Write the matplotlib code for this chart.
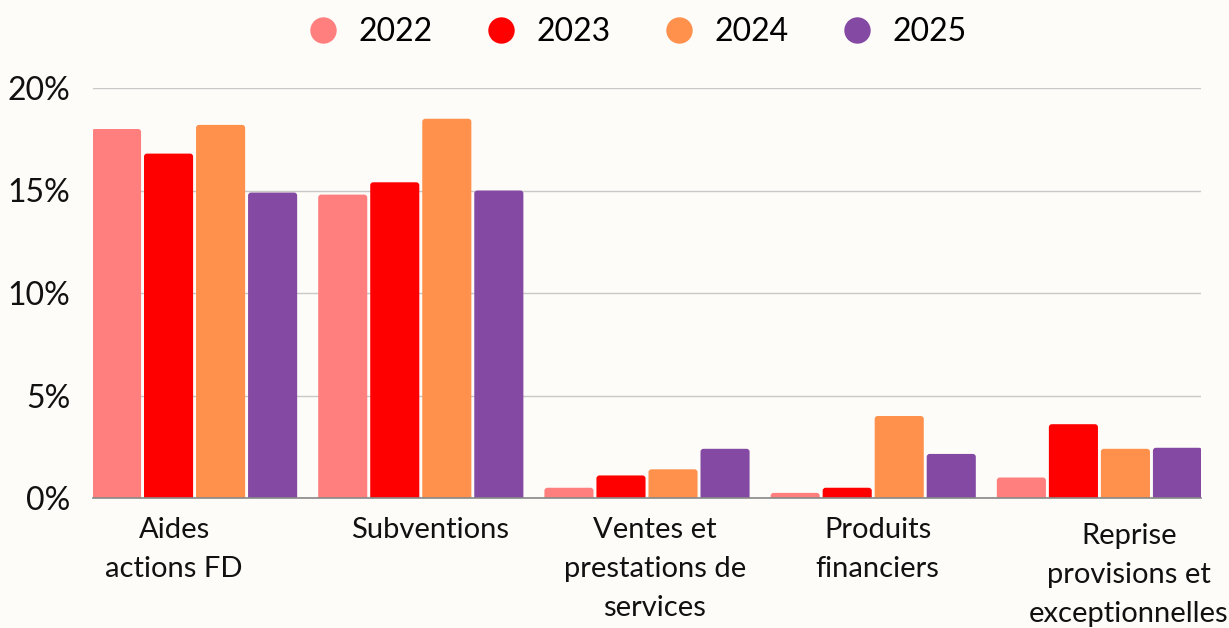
import numpy as np
import matplotlib.pyplot as plt
from matplotlib.lines import Line2D
from matplotlib.patches import FancyBboxPatch

plt.rcParams['font.family'] = ['Lato', 'DejaVu Sans']

categories = ["Aides\nactions FD", "Subventions", "Ventes et\nprestations de\nservices",
              "Produits\nfinanciers", "Reprise\nprovisions et\nexceptionnelles"]
years = ["2022", "2023", "2024", "2025"]
values_2022 = [18.0, 14.8, 0.5, 0.25, 1.0]
values_2023 = [16.8, 15.4, 1.1, 0.5, 3.6]
values_2024 = [18.2, 18.5, 1.4, 4.0, 2.4]
values_2025 = [14.9, 15.0, 2.4, 2.15, 2.45]
y_ticks = [0, 5, 10, 15, 20]

colors = ["#FF7F7F", "#FF0000", "#FF914D", "#8449A3"]
bg = "#FDFCF8"

fig = plt.figure(figsize=(12.29, 6.28), dpi=100, facecolor=bg)
ax = fig.add_axes([93 / 1229, 130 / 628, 1108 / 1229, 410 / 628])
ax.set_facecolor(bg)

x = np.arange(len(categories))
slot = 0.23
bar_w = 0.217
xmin, xmax = -0.449, len(categories) - 1 + 0.449
ax.set_xlim(xmin, xmax)
ax.set_ylim(0, 20)

# pixels per data unit, used to keep the corner rounding circular
px_x = 1108 / (xmax - xmin)
px_y = 410 / 20
r_px = 3
series = [values_2022, values_2023, values_2024, values_2025]
for i, vals in enumerate(series):
    bars = ax.bar(x + (i - 1.5) * slot, vals, width=bar_w, color=colors[i], zorder=3)
    for b in bars:
        b.set_visible(False)
        ext = r_px / px_y
        p = FancyBboxPatch((b.get_x(), -ext), b.get_width(), b.get_height() + ext,
                           boxstyle=f"round,pad=0,rounding_size={r_px / px_x}",
                           mutation_aspect=px_x / px_y,
                           facecolor=colors[i], edgecolor='none', zorder=3)
        ax.add_patch(p)

ax.set_yticks(y_ticks)
ax.set_yticklabels([f"{t}%" for t in y_ticks], fontsize=23, color="#111111")
ax.tick_params(axis='y', length=0, pad=16.5)
ax.set_xticks([])
ax.grid(axis='y', color="#C8C8C8", linewidth=1, zorder=0)
for s in ['left', 'right', 'top']:
    ax.spines[s].set_visible(False)
ax.spines['bottom'].set_color("#888888")
ax.spines['bottom'].set_linewidth(1.2)
ax.spines['bottom'].set_zorder(4)

# category labels, nudged a bit as in the original
label_dx = [-0.09, 0.04, 0.035, 0.02, 0.13]
label_dy = [-19, -19, -19, -19, -25]
for i, cat in enumerate(categories):
    ax.annotate(cat, xy=(x[i] + label_dx[i], 0), xycoords='data',
                xytext=(0, label_dy[i]), textcoords='offset pixels',
                ha='center', va='top', fontsize=21, color="#111111",
                linespacing=1.63, annotation_clip=False)

handles = [Line2D([0], [0], marker='o', linestyle='none', markersize=18,
                  markerfacecolor=c, markeredgecolor=c) for c in colors]
fig.legend(handles, years, loc='center', bbox_to_anchor=(0.517, 1 - 32 / 628), ncol=4,
           frameon=False, fontsize=23, handletextpad=0.52, columnspacing=1.53,
           handlelength=1.2)

fig.savefig("out.png", dpi=100, facecolor=bg)
